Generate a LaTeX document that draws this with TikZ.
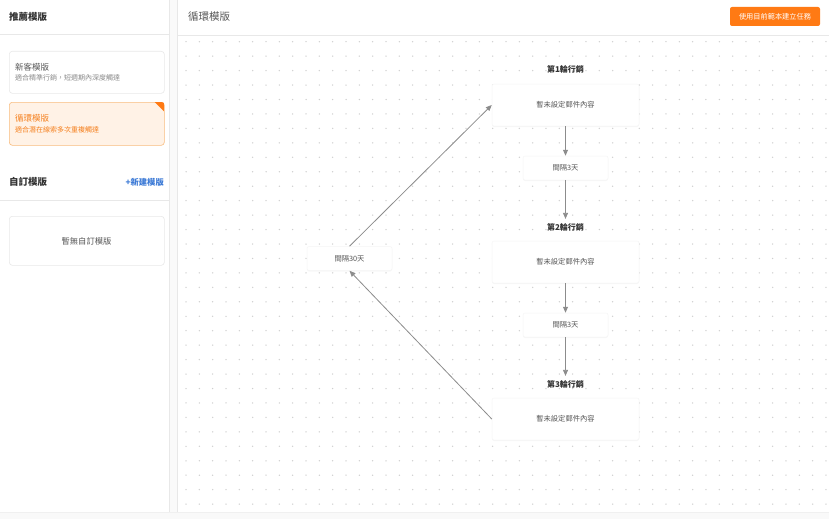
\documentclass[tikz,border=0pt]{standalone}
\usepackage{fontspec}
\setmainfont{Noto Sans CJK TC}
\usetikzlibrary{arrows.meta,shadows}
\definecolor{orangeA}{HTML}{FF7A14}
\definecolor{orangeT}{HTML}{F5801E}
\definecolor{orangeF}{HTML}{FFF2E6}
\definecolor{orangeB}{HTML}{F8BC7E}
\definecolor{blueT}{HTML}{3C7AD6}
\definecolor{txtA}{HTML}{333333}
\definecolor{txtB}{HTML}{555555}
\definecolor{txtC}{HTML}{8A8A8A}
\definecolor{lineC}{HTML}{E8E8E8}
\definecolor{dotC}{HTML}{CFCFCF}
\definecolor{arrC}{HTML}{8C8C8C}
\tikzset{
  txt/.style={inner sep=0pt, font=#1},
  card/.style={draw=lineC, fill=white, rounded corners=3pt, line width=0.6pt, inner sep=0pt},
  flowbox/.style={fill=white, draw=gray!8, line width=0.5pt, rounded corners=2pt, inner sep=0pt,
     drop shadow={opacity=0.06, shadow xshift=0pt, shadow yshift=-1pt},
     text=txtB, font=\fontsize{7.3}{8}\selectfont},
  mailbox/.style={flowbox, minimum width=147pt, minimum height=42pt},
  gapbox/.style={flowbox, minimum width=85pt, minimum height=24pt},
  roundhead/.style={inner sep=5pt, text=txtA, font=\bfseries\fontsize{8}{9}\selectfont},
  arr/.style={draw=arrC, line width=0.8pt, -{Triangle[length=6pt,width=5pt]}}
}
\begin{document}
\begin{tikzpicture}[x=1pt,y=-1pt]
\useasboundingbox (0,0) rectangle (829,519);
\fill[white] (0,0) rectangle (829,519);
% divider strip
\fill[gray!4] (169,0) rectangle (177,519);
\draw[lineC, line width=0.6pt] (169.5,0) -- (169.5,519);
\draw[lineC, line width=0.6pt] (177.5,0) -- (177.5,519);
% grid dots
\foreach \i in {0,...,48} {
  \foreach \j in {0,...,32} {
    \fill[dotC] (186+13.333*\i, 41.7+14.45*\j) circle (0.75pt);
  }
}
% bottom band
\fill[gray!5] (0,512) rectangle (829,519);
\draw[gray!12, line width=0.5pt] (0,512) -- (829,512);
% headers
\draw[lineC, line width=0.8pt] (0,34.5) -- (169,34.5);
\draw[lineC, line width=0.8pt] (178,35) -- (829,35);
\draw[lineC, line width=0.8pt] (0,200.5) -- (169,200.5);

% left panel
\node[txt={\bfseries\fontsize{9.5}{11}\selectfont}, text=txtA, anchor=west] (ltitle) at (9,17) {推薦模版};
\node[card, anchor=north west, minimum width=155pt, minimum height=42pt] (c1) at (9,51) {};
\node[txt={\fontsize{8.5}{10}\selectfont}, text=txtB, anchor=west] (c1t) at (15,67) {新客模版};
\node[txt={\fontsize{7}{8}\selectfont}, text=txtC, anchor=west] (c1s) at (15,78) {適合精準行銷，短週期內深度觸達};

\node[card, draw=orangeB, fill=orangeF, anchor=north west, minimum width=155pt, minimum height=43pt] (c2) at (9,102) {};
\begin{scope}
\clip[rounded corners=3pt] (c2.north west) rectangle (c2.south east);
\fill[orangeA] (154.5,102) -- (164,102) -- (164,111.5) -- cycle;
\end{scope}
\node[txt={\fontsize{8.5}{10}\selectfont}, text=orangeT, anchor=west] (c2t) at (15,118) {循環模版};
\node[txt={\fontsize{7}{8}\selectfont}, text=orangeT, anchor=west] (c2s) at (15,130) {適合潛在線索多次重複觸達};

\node[txt={\bfseries\fontsize{9.5}{11}\selectfont}, text=txtA, anchor=west] (ctitle) at (9,182) {自訂模版};
\node[txt={\bfseries\fontsize{8.3}{10}\selectfont}, text=blueT, anchor=east] (cnew) at (164,182) {+新建模版};

\node[card, anchor=north west, minimum width=155pt, minimum height=49pt] (c3) at (9,216) {};
\node[txt={\fontsize{8.3}{10}\selectfont}, text=txtB] (c3t) at (86.5,241) {暫無自訂模版};

% main header
\node[txt={\fontsize{10.5}{12}\selectfont}, text=txtB, anchor=west] (mtitle) at (188,17) {循環模版};
\node[fill=orangeA, rounded corners=2pt, minimum width=90pt, minimum height=19pt, inner sep=0pt,
      text=white, font=\fontsize{7.2}{8}\selectfont] (btn) at (775,16.5) {使用目前範本建立任務};

% flow
\node[roundhead] (h1) at (565.5,69) {第1輪行銷};
\node[mailbox] (b1) at (565.5,105) {暫未設定郵件內容};
\node[gapbox] (g1) at (565.5,168) {間隔3天};
\node[roundhead] (h2) at (565.5,227) {第2輪行銷};
\node[mailbox] (b2) at (565.5,262) {暫未設定郵件內容};
\node[gapbox] (g2) at (565.5,325) {間隔3天};
\node[roundhead] (h3) at (565.5,384) {第3輪行銷};
\node[mailbox] (b3) at (565.5,419) {暫未設定郵件內容};
\node[gapbox] (g30) at (349.5,258.5) {間隔30天};

\draw[arr] (b1.south) -- (g1.north);
\draw[arr] (g1.south) -- ([yshift=-1pt]h2.north);
\draw[arr] (b2.south) -- (g2.north);
\draw[arr] (g2.south) -- ([yshift=-1pt]h3.north);
\draw[arr] (g30.north) -- (b1.west);
\draw[arr] (b3.west) -- (g30.south);
\end{tikzpicture}
\end{document}
